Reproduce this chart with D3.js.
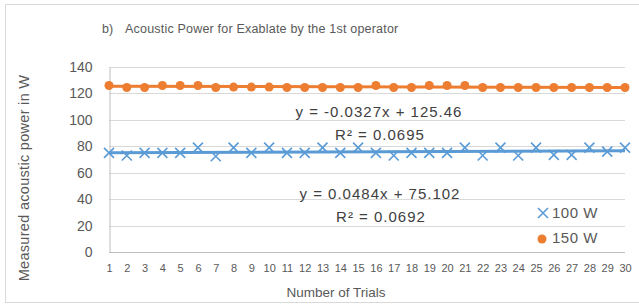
<!DOCTYPE html>
<html>
<head>
  <meta charset="utf-8">
  <title>Acoustic Power for Exablate by the 1st operator</title>
  <style>
    body { margin: 0; background: #fff; }
    text { font-family: 'Liberation Sans', Arial, sans-serif; }
  </style>
</head>
<body>
  <div id="chart-container"></div>
  <script src="https://d3js.org/d3.v7.min.js"></script>
  <script>
    // data
    const trials = d3.range(1, 31);
    const power100 = [75, 73, 75, 75, 75, 79, 72.5, 79, 75, 79,
                      75, 75, 79, 75, 79, 75, 73, 75, 75, 75,
                      79, 73, 79, 73, 79, 73.5, 73.5, 79, 76, 79];
    const power150 = [126, 124.5, 124.5, 126, 126, 126, 124.5, 124.8, 124.8, 124.8,
                      124.5, 124.5, 124.5, 124.5, 124.5, 126, 124.5, 124.5, 126, 126,
                      126, 124.5, 124.5, 124.5, 124.5, 124.5, 124.5, 124.5, 124.5, 124.5];
    const yTicks = [0, 20, 40, 60, 80, 100, 120, 140];
    const trend100 = { slope: 0.0484, intercept: 75.102, label: 'y = 0.0484x + 75.102', r2: 'R² = 0.0692' };
    const trend150 = { slope: -0.0327, intercept: 125.46, label: 'y = -0.0327x + 125.46', r2: 'R² = 0.0695' };
    const seriesNames = ['100 W', '150 W'];

    const width = 639;
    const height = 306;
    const blue = '#5b9bd5';
    const orange = '#ed7d31';

    const svg = d3.select('#chart-container')
      .append('svg')
      .attr('width', width)
      .attr('height', height);

    // chart frame
    svg.append('rect')
      .attr('x', 5.5).attr('y', 4.5)
      .attr('width', 640).attr('height', 298)
      .attr('fill', 'none')
      .attr('stroke', '#d9d9d9');

    const xScale = d3.scaleLinear().domain([1, 30]).range([109, 625]);
    const yScale = d3.scaleLinear().domain([0, 140]).range([252, 67]);

    // gridlines
    svg.append('g')
      .selectAll('line')
      .data(yTicks.filter(d => d > 0))
      .enter()
      .append('line')
      .attr('x1', 109).attr('x2', 625)
      .attr('y1', d => Math.round(yScale(d)) + 0.5)
      .attr('y2', d => Math.round(yScale(d)) + 0.5)
      .attr('stroke', '#d9d9d9');

    // axes
    const yAxis = d3.axisLeft(yScale).tickValues(yTicks).tickSize(0).tickPadding(17);
    const yg = svg.append('g').attr('transform', 'translate(109.5,0)').call(yAxis);
    yg.select('.domain').attr('stroke', '#bfbfbf');
    yg.selectAll('text').attr('fill', '#595959').style('font-size', '14px');

    const xAxis = d3.axisBottom(xScale).tickValues(trials).tickSize(0).tickPadding(12);
    const xg = svg.append('g').attr('transform', 'translate(0,252.5)').call(xAxis);
    xg.select('.domain').attr('stroke', '#bfbfbf').attr('d', 'M109,0H625');
    xg.selectAll('text').attr('fill', '#595959').style('font-size', '11px');

    // titles
    svg.append('text')
      .attr('x', 102).attr('y', 33)
      .attr('fill', '#595959')
      .style('font-size', '12.5px')
      .text('b)');
    svg.append('text')
      .attr('x', 125).attr('y', 33)
      .attr('fill', '#595959')
      .style('font-size', '12.5px')
      .style('letter-spacing', '0.2px')
      .text('Acoustic Power for Exablate by the 1st operator');

    svg.append('text')
      .attr('transform', 'translate(29,178) rotate(-90)')
      .attr('text-anchor', 'middle')
      .attr('fill', '#595959')
      .style('font-size', '14.5px')
      .style('letter-spacing', '0.3px')
      .text('Measured acoustic power in W');

    svg.append('text')
      .attr('x', 336).attr('y', 297)
      .attr('text-anchor', 'middle')
      .attr('fill', '#595959')
      .style('font-size', '13.5px')
      .text('Number of Trials');

    // trendlines
    const trendLine = d3.line()
      .x(d => xScale(d.x))
      .y(d => yScale(d.y));
    [[trend100, blue], [trend150, orange]].forEach(([t, color]) => {
      svg.append('path')
        .datum([1, 30].map(x => ({ x: x, y: t.slope * x + t.intercept })))
        .attr('fill', 'none')
        .attr('stroke', color)
        .attr('stroke-width', 3)
        .attr('d', trendLine);
    });

    // 100 W markers (crosses)
    const crossPath = 'M-5,-5L5,5M-5,5L5,-5';
    svg.append('g')
      .selectAll('path')
      .data(power100)
      .enter()
      .append('path')
      .attr('transform', (d, i) => `translate(${xScale(trials[i])},${yScale(d)})`)
      .attr('d', crossPath)
      .attr('stroke', blue)
      .attr('stroke-width', 1.6)
      .attr('fill', 'none');

    // 150 W markers (dots)
    svg.append('g')
      .selectAll('circle')
      .data(power150)
      .enter()
      .append('circle')
      .attr('cx', (d, i) => xScale(trials[i]))
      .attr('cy', d => yScale(d))
      .attr('r', 4.5)
      .attr('fill', orange);

    // trendline labels
    const labels = [
      { text: trend150.label, x: 379, y: 117 },
      { text: trend150.r2, x: 380, y: 140 },
      { text: trend100.label, x: 380, y: 199 },
      { text: trend100.r2, x: 381, y: 222 }
    ];
    svg.append('g')
      .selectAll('text')
      .data(labels)
      .enter()
      .append('text')
      .attr('x', d => d.x).attr('y', d => d.y)
      .attr('text-anchor', 'middle')
      .attr('fill', '#404040')
      .style('font-size', '15px')
      .style('letter-spacing', '1px')
      .text(d => d.text);

    // legend
    const legend = svg.append('g').attr('transform', 'translate(543,213)');
    legend.append('path')
      .attr('d', crossPath)
      .attr('stroke', blue)
      .attr('stroke-width', 1.6);
    legend.append('circle')
      .attr('x', 0)
      .attr('cx', -1)
      .attr('cy', 26)
      .attr('r', 4.5)
      .attr('fill', orange);
    legend.selectAll('text')
      .data(seriesNames)
      .enter()
      .append('text')
      .attr('x', 9)
      .attr('y', (d, i) => i * 25 + 5)
      .attr('fill', '#595959')
      .style('font-size', '15px')
      .style('letter-spacing', '0.5px')
      .text(d => d);
  </script>
</body>
</html>
